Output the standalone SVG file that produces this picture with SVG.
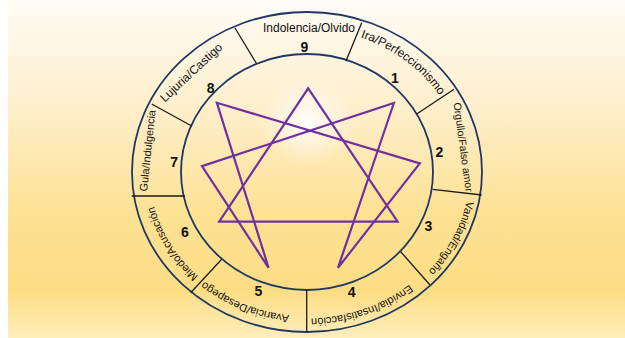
<svg xmlns="http://www.w3.org/2000/svg" width="625" height="338" viewBox="0 0 625 338">
  <defs>
    <linearGradient id="bg" x1="0" y1="0" x2="0" y2="1">
      <stop offset="0" stop-color="#FFFCF6"/>
      <stop offset="0.33" stop-color="#FEEECA"/>
      <stop offset="0.62" stop-color="#FDE295"/>
      <stop offset="0.86" stop-color="#FDDD84"/>
      <stop offset="1" stop-color="#FEEEBB"/>
    </linearGradient>
    <radialGradient id="glow" cx="0.5" cy="0.5" r="0.5">
      <stop offset="0" stop-color="#FFFFFF" stop-opacity="0.95"/>
      <stop offset="0.45" stop-color="#FFFFFF" stop-opacity="0.5"/>
      <stop offset="1" stop-color="#FFFFFF" stop-opacity="0"/>
    </radialGradient>
    <path id="arcIra" d="M319,29.2 A156.6,143.2 0 0 1 457.8,133.5"/>
    <path id="arcVan" d="M467.7,148.7 A162.75,148.8 0 0 1 385.9,302.1"/>
    <path id="arcEnv" d="M439.7,253.9 A160.1,146.4 0 0 1 268.3,314.1"/>
    <path id="arcAva" d="M337.05,313.35 A157.5,144 0 0 1 172,246.2"/>
    <path id="arcMie" d="M239.2,302 A157.5,144 0 0 1 150.2,158.2"/>
  </defs>
  <style>
    .ring { fill: none; stroke: #1F3864; stroke-width: 1.8; }
    .div { stroke: #1A1A1A; stroke-width: 1.3; fill: none; }
    .lbl { font-family: "Liberation Sans", Arial, sans-serif; font-size: 11px; fill: #111; }
    .lbl12 { font-size: 12px; }
    .num { font-family: "Liberation Sans", Arial, sans-serif; font-size: 14px; font-weight: bold; fill: #111; text-anchor: middle; }
    .star { fill: none; stroke: #7030A0; stroke-width: 2.2; stroke-linejoin: miter; }
  </style>

  <rect x="0" y="0" width="625" height="338" fill="url(#bg)"/>
  <rect x="0" y="0" width="8" height="338" fill="#FFFFFF"/>
  <ellipse cx="308" cy="122" rx="48" ry="44" fill="url(#glow)"/>

  <g id="rings">
    <ellipse class="ring" cx="307" cy="172" rx="175" ry="160"/>
    <ellipse class="ring" cx="307" cy="172" rx="126" ry="118"/>
  </g>

  <g id="connectors">
    <line class="div" x1="235" y1="28" x2="256.7" y2="64"/>
    <line class="div" x1="361.7" y1="22.7" x2="346" y2="61"/>
    <line class="div" x1="454" y1="89.3" x2="416.7" y2="114"/>
    <line class="div" x1="481.7" y1="195" x2="432.7" y2="189.3"/>
    <line class="div" x1="430" y1="285" x2="400.7" y2="251.7"/>
    <line class="div" x1="306.7" y1="332" x2="306.7" y2="290"/>
    <line class="div" x1="190.7" y1="292.7" x2="221.7" y2="259.3"/>
    <line class="div" x1="131.7" y1="196" x2="185" y2="196"/>
    <line class="div" x1="151.7" y1="104" x2="191.7" y2="126"/>
  </g>

  <g id="enneagram">
    <polygon class="star" points="308.2,88.3 397.6,221.7 219.2,221.7"/>
    <polygon class="star" points="393.9,103 338,267.8 419.8,163.4 216.9,102.8 268.6,267.8 202,166.2"/>
  </g>

  <g id="node-9">
    <text class="lbl lbl12" x="309" y="31.5" text-anchor="middle">Indolencia/Olvido</text>
    <text class="num" x="304.5" y="51.7">9</text>
  </g>
  <g id="node-1">
    <text class="lbl lbl12"><textPath href="#arcIra" startOffset="50%" text-anchor="middle">Ira/Perfeccionismo</textPath></text>
    <text class="num" x="395" y="83.3">1</text>
  </g>
  <g id="node-2">
    <text class="lbl" transform="translate(459.6,147.5) rotate(82.2)" text-anchor="middle" style="font-size:10.6px">Orgullo/Falso amor</text>
    <text class="num" x="439.3" y="156.7">2</text>
  </g>
  <g id="node-3">
    <text class="lbl"><textPath href="#arcVan" startOffset="50%" text-anchor="middle">Vanidad/Engaño</textPath></text>
    <text class="num" x="428.3" y="230.7">3</text>
  </g>
  <g id="node-4">
    <text class="lbl"><textPath href="#arcEnv" startOffset="50%" text-anchor="middle">Envidia/Insatisfacción</textPath></text>
    <text class="num" x="351.7" y="297.3">4</text>
  </g>
  <g id="node-5">
    <text class="lbl"><textPath href="#arcAva" startOffset="50%" text-anchor="middle">Avaricia/Desapego</textPath></text>
    <text class="num" x="258.3" y="296.2">5</text>
  </g>
  <g id="node-6">
    <text class="lbl"><textPath href="#arcMie" startOffset="50%" text-anchor="middle">Miedo/Acusación</textPath></text>
    <text class="num" x="185" y="236.7">6</text>
  </g>
  <g id="node-7">
    <text class="lbl" transform="translate(151.3,151) rotate(-84.1)" text-anchor="middle" style="font-size:10.9px">Gula/Indulgencia</text>
    <text class="num" x="174.2" y="166.7">7</text>
  </g>
  <g id="node-8">
    <text class="lbl lbl12" transform="translate(193.9,75.4) rotate(-43)" text-anchor="middle">Lujuria/Castigo</text>
    <text class="num" x="210.7" y="93.3">8</text>
  </g>
</svg>
